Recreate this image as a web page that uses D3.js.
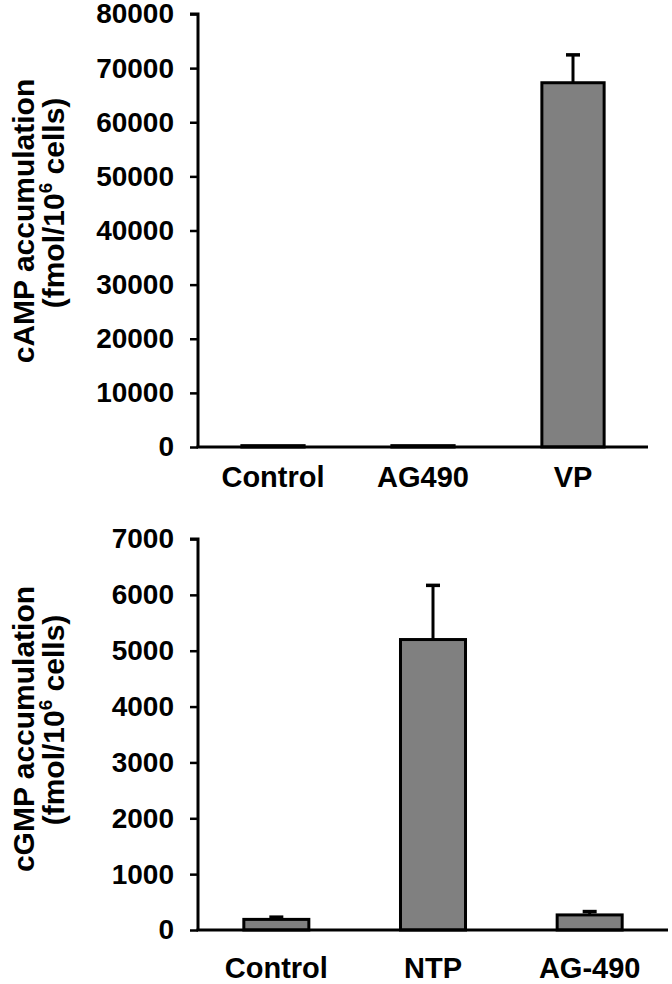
<!DOCTYPE html>
<html><head><meta charset="utf-8">
<script src="https://cdn.jsdelivr.net/npm/d3@7"></script>
<style>
html,body{margin:0;padding:0;background:#fff;}
svg{display:block;font-family:"Liberation Sans",Arial,sans-serif;font-weight:bold;}
</style></head>
<body><svg id="c" width="672" height="984"></svg>
<script>
// Top panel: cAMP
const campCategories = ["Control", "AG490", "VP"];
const campValues = [250, 250, 67300];
const campErrors = [40, 40, 5150];
const campTicks = [0, 10000, 20000, 30000, 40000, 50000, 60000, 70000, 80000];

// Bottom panel: cGMP
const cgmpCategories = ["Control", "NTP", "AG-490"];
const cgmpValues = [190, 5200, 270];
const cgmpErrors = [40, 970, 60];
const cgmpTicks = [0, 1000, 2000, 3000, 4000, 5000, 6000, 7000];

const svg = d3.select("#c");

function panel(cfg) {
  const g = svg.append("g");
  const x = d3.scaleBand().domain(cfg.cats).range([cfg.x0, cfg.x1])
    .paddingInner(0.585).paddingOuter(0.2925);
  const y = d3.scaleLinear().domain([0, cfg.max]).range([cfg.y0, cfg.y1]);

  // y axis
  const ya = g.append("g").attr("transform", `translate(${cfg.x0},0)`)
    .call(d3.axisLeft(y).tickValues(cfg.ticks).tickSize(8).tickPadding(16).tickFormat(d3.format("d")));
  ya.select(".domain").attr("stroke", "#000").attr("stroke-width", 3)
    .attr("d", `M-8,${y(cfg.max)}H0V${y(0)}`);
  ya.selectAll(".tick line").attr("stroke", "#000").attr("stroke-width", 2.5);
  ya.selectAll(".tick text").attr("fill", "#000").style("font-size", "28px")
    .style("font-weight", "bold").style("font-family", '"Liberation Sans",Arial,sans-serif');

  // bars
  g.selectAll("rect.bar").data(cfg.cats).enter().append("rect")
    .attr("x", d => x(d)).attr("width", x.bandwidth())
    .attr("y", (d, i) => y(cfg.vals[i]))
    .attr("height", (d, i) => y(0) - y(cfg.vals[i]))
    .attr("fill", "#808080").attr("stroke", "#000").attr("stroke-width", 3);

  // error bars
  cfg.cats.forEach((d, i) => {
    const cx = x(d) + x.bandwidth() / 2;
    const top = y(cfg.vals[i] + cfg.errs[i]);
    const base = y(cfg.vals[i]);
    if (base - top < 2) return;
    g.append("line").attr("x1", cx).attr("x2", cx).attr("y1", base).attr("y2", top)
      .attr("stroke", "#000").attr("stroke-width", 3);
    g.append("line").attr("x1", cx - 7).attr("x2", cx + 7).attr("y1", top).attr("y2", top)
      .attr("stroke", "#000").attr("stroke-width", 3.5);
  });

  // x axis
  const xa = g.append("g").attr("transform", `translate(0,${cfg.y0})`)
    .call(d3.axisBottom(x).tickSize(0).tickPadding(cfg.labelPad));
  xa.select(".domain").attr("stroke", "#000").attr("stroke-width", 3)
    .attr("d", `M${cfg.x0 - 1.5},0H${cfg.x1}`);
  xa.selectAll(".tick text").attr("fill", "#000").style("font-size", "29px")
    .style("font-weight", "bold").style("font-family", '"Liberation Sans",Arial,sans-serif');

  // y label (two lines)
  g.append("text").attr("transform", `translate(${cfg.lab1x},${cfg.lab1y}) rotate(-90)`)
    .attr("text-anchor", "middle").style("font-size", "30px").text(cfg.title);
  const l2 = g.append("text").attr("transform", `translate(${cfg.lab2x},${cfg.lab2y}) rotate(-90)`)
    .attr("text-anchor", "middle").style("font-size", "30px");
  l2.append("tspan").text("(fmol/10");
  l2.append("tspan").attr("dy", -12).style("font-size", "19px").text("6");
  l2.append("tspan").attr("dy", 12).text(" cells)");
}

panel({cats: campCategories, vals: campValues, errs: campErrors, ticks: campTicks, max: 80000,
  x0: 198, x1: 648, y0: 447, y1: 14, labelPad: 19,
  title: "cAMP accumulation", lab1x: 34, lab1y: 221, lab2x: 64, lab2y: 203});

panel({cats: cgmpCategories, vals: cgmpValues, errs: cgmpErrors, ticks: cgmpTicks, max: 7000,
  x0: 198, x1: 668, y0: 930, y1: 539, labelPad: 27,
  title: "cGMP accumulation", lab1x: 34, lab1y: 729, lab2x: 64, lab2y: 720});
</script></body></html>
